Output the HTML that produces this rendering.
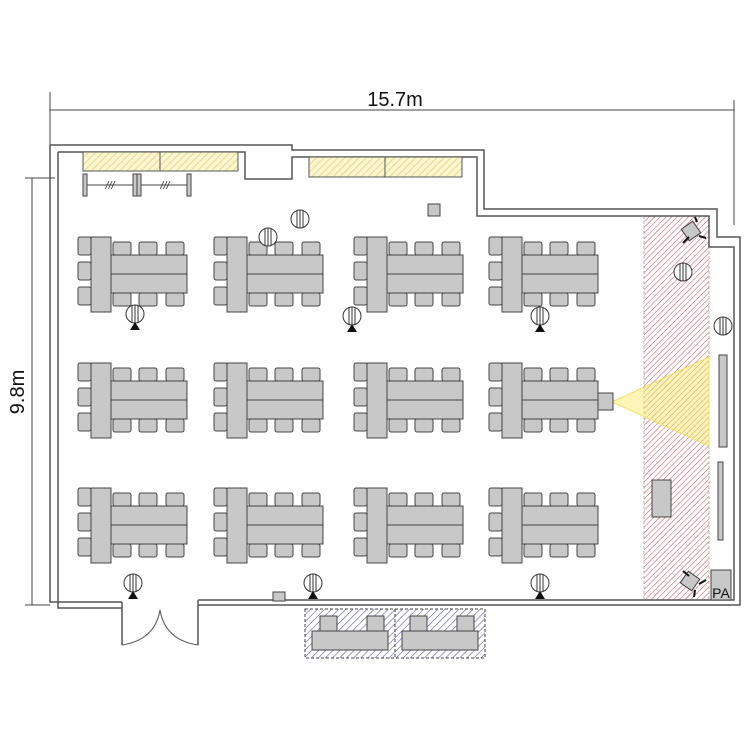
<!DOCTYPE html>
<html><head><meta charset="utf-8"><style>html,body{margin:0;padding:0;background:#fff}svg{display:block}</style></head>
<body>
<svg width="750" height="750" viewBox="0 0 750 750" xmlns="http://www.w3.org/2000/svg" font-family="Liberation Sans, sans-serif">
<defs>
<pattern id="hy" patternUnits="userSpaceOnUse" width="5" height="5" patternTransform="rotate(45)"><rect width="5" height="5" fill="#fbf6d2"/><line x1="0" y1="0" x2="0" y2="5" stroke="#e0cc70" stroke-width="1.4"/></pattern>
<pattern id="hp" patternUnits="userSpaceOnUse" width="4" height="4" patternTransform="rotate(45)"><rect width="4" height="4" fill="#fff"/><line x1="0" y1="0" x2="0" y2="4" stroke="#c85a66" stroke-width="1.1"/></pattern>
<pattern id="hb" patternUnits="userSpaceOnUse" width="5" height="5" patternTransform="rotate(45)"><rect width="5" height="5" fill="#fff"/><line x1="0" y1="0" x2="0" y2="5" stroke="#5a5aa0" stroke-width="1.2"/></pattern>
<g id="grp" fill="#c8c8c8" stroke="#444" stroke-width="1">
<rect x="-13" y="0" width="13" height="18" rx="2"/><rect x="-13" y="25" width="13" height="18" rx="2"/><rect x="-13" y="50" width="13" height="18" rx="2"/>
<rect x="22" y="5" width="18" height="13" rx="2"/><rect x="48" y="5" width="18" height="13" rx="2"/><rect x="75" y="5" width="18" height="13" rx="2"/>
<rect x="22" y="56" width="18" height="13" rx="2"/><rect x="48" y="56" width="18" height="13" rx="2"/><rect x="75" y="56" width="18" height="13" rx="2"/>
<rect x="20" y="18" width="76" height="19"/><rect x="20" y="37" width="76" height="19"/>
<rect x="0" y="0" width="20" height="75"/>
</g>
<g id="spk" fill="#fff" stroke="#333" stroke-width="1"><circle cx="0" cy="0" r="9"/><line x1="-3" y1="-8" x2="-3" y2="8"/><line x1="0" y1="-9" x2="0" y2="9"/><line x1="3" y1="-8" x2="3" y2="8"/></g>
</defs>
<g stroke="#444" stroke-width="1" fill="none">
<line x1="50" y1="92" x2="50" y2="145"/><line x1="734" y1="100" x2="734" y2="225"/>
<line x1="50" y1="110" x2="734" y2="110"/>
<line x1="25" y1="178" x2="55" y2="178"/><line x1="25" y1="605" x2="50" y2="605"/>
<line x1="32" y1="178" x2="32" y2="605"/>
</g>
<text x="395" y="106" font-size="20" text-anchor="middle" fill="#111">15.7m</text>
<text x="24" y="392" font-size="20" text-anchor="middle" fill="#111" transform="rotate(-90 24 392)">9.8m</text>
<rect x="644" y="216" width="65" height="384" fill="url(#hp)" stroke="#b0a0a0" stroke-width="0.8" stroke-dasharray="3,2"/>
<polygon points="612,402 709,357 709,446" fill="#f8e860" fill-opacity="0.45" stroke="#f0e060"/>
<g stroke="#555" stroke-width="1.5" fill="none">
<path d="M50,145 H292 V150 H484 V209 H717 V237 H740 V605 H198"/>
<path d="M58,152 H245 V179 H292 V157 H477 V216 H709 V247 H734 V600 H198"/>
<path d="M122,602 H50 V145"/><path d="M122,608 H58 V152"/>
<path d="M122,602 V645 M198,600 V645"/>
<path d="M122,645 Q155,640 160,610 M198,645 Q165,640 160,610" stroke-width="1"/>
</g>
<rect x="83" y="152" width="155" height="19" fill="url(#hy)" stroke="#555"/><line x1="160" y1="152" x2="160" y2="171" stroke="#555"/>
<rect x="309" y="157" width="153" height="20" fill="url(#hy)" stroke="#555"/><line x1="385" y1="157" x2="385" y2="177" stroke="#555"/>
<g stroke="#444" fill="#c8c8c8"><line x1="85" y1="185" x2="189" y2="185"/>
<rect x="83" y="174" width="4" height="22"/><rect x="133" y="174" width="4" height="22"/><rect x="137" y="174" width="4" height="22"/><rect x="187" y="174" width="4" height="22"/></g>
<text x="110" y="189" font-size="11" font-style="italic" fill="#333" text-anchor="middle">///</text>
<text x="165" y="189" font-size="11" font-style="italic" fill="#333" text-anchor="middle">///</text>
<use href="#grp" x="91" y="237"/><use href="#grp" x="227" y="237"/><use href="#grp" x="367" y="237"/><use href="#grp" x="502" y="237"/>
<use href="#grp" x="91" y="363"/><use href="#grp" x="227" y="363"/><use href="#grp" x="367" y="363"/><use href="#grp" x="502" y="363"/>
<use href="#grp" x="91" y="488"/><use href="#grp" x="227" y="488"/><use href="#grp" x="367" y="488"/><use href="#grp" x="502" y="488"/>
<g fill="#c8c8c8" stroke="#444"><rect x="428" y="204" width="12" height="12"/><rect x="273" y="592" width="12" height="9"/>
<rect x="598" y="393" width="15" height="17"/><rect x="652" y="480" width="19" height="37"/>
<rect x="719" y="355" width="8" height="92"/><rect x="718" y="462" width="5" height="78"/>
<rect x="711" y="570" width="20" height="30"/>
<rect x="684" y="224" width="14" height="14" transform="rotate(-35 691 231)"/>
<rect x="683" y="574" width="14" height="14" transform="rotate(35 690 581)"/></g>
<g stroke="#111" stroke-width="2"><line x1="683" y1="243" x2="689" y2="237"/><line x1="699" y1="236" x2="706" y2="238"/><line x1="697" y1="222" x2="695" y2="217"/>
<line x1="683" y1="571" x2="689" y2="576"/><line x1="699" y1="584" x2="706" y2="580"/><line x1="695" y1="590" x2="694" y2="597"/></g>
<text x="721" y="598" font-size="14" fill="#111" text-anchor="middle">PA</text>
<use href="#spk" x="135" y="314"/><use href="#spk" x="352" y="316"/><use href="#spk" x="540" y="316"/>
<use href="#spk" x="268" y="237"/><use href="#spk" x="300" y="219"/><use href="#spk" x="683" y="272"/><use href="#spk" x="723" y="326"/>
<use href="#spk" x="133" y="583"/><use href="#spk" x="313" y="583"/><use href="#spk" x="540" y="583"/>
<g fill="#111"><polygon points="135,322 130,330 140,330"/><polygon points="352,324 347,332 357,332"/><polygon points="540,324 535,332 545,332"/>
<polygon points="133,591 128,599 138,599"/><polygon points="313,591 308,599 318,599"/><polygon points="540,591 535,599 545,599"/></g>
<rect x="305" y="609" width="180" height="49" fill="url(#hb)" stroke="#444" stroke-dasharray="3,2"/>
<line x1="395" y1="609" x2="395" y2="658" stroke="#444" stroke-dasharray="3,2"/>
<g fill="#c8c8c8" stroke="#444"><rect x="320" y="616" width="17" height="15"/><rect x="367" y="616" width="17" height="15"/><rect x="410" y="616" width="17" height="15"/><rect x="457" y="616" width="17" height="15"/>
<rect x="312" y="631" width="76" height="19"/><rect x="402" y="631" width="76" height="19"/></g>
</svg>
</body></html>
